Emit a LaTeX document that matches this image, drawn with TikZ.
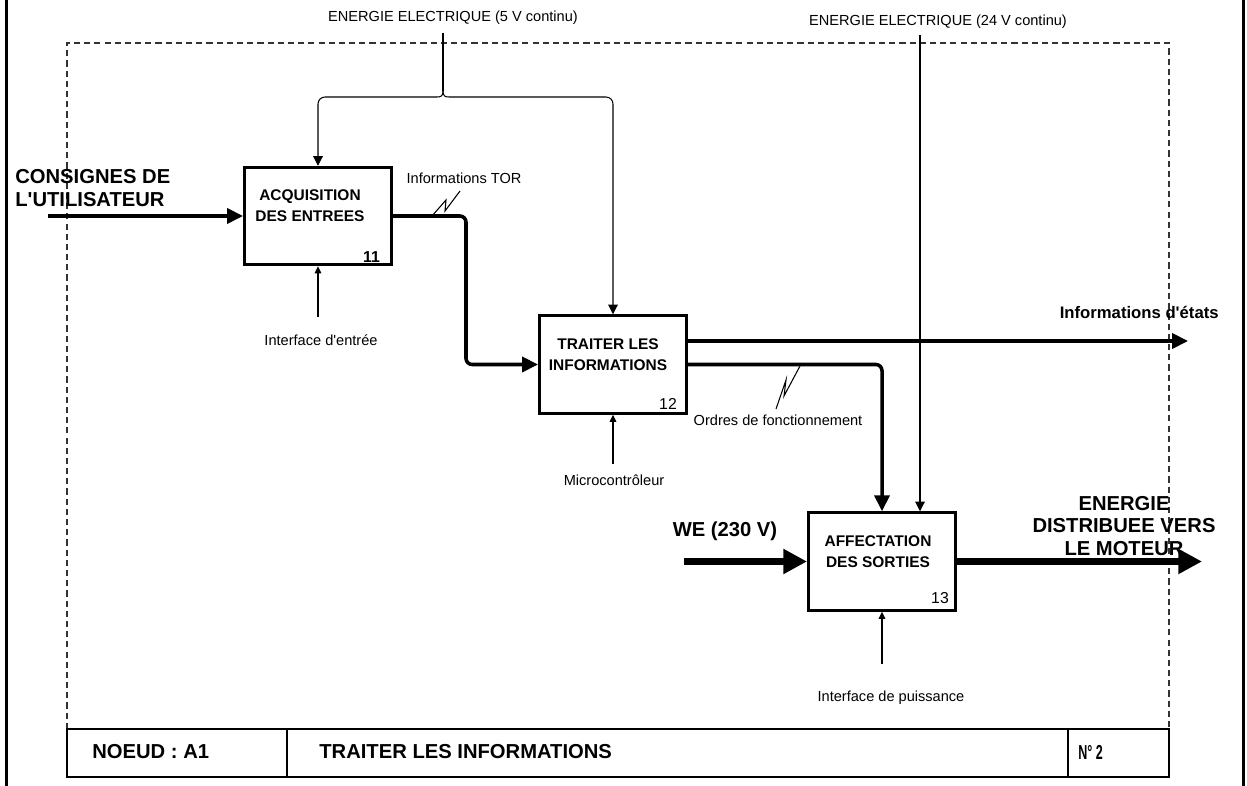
\documentclass[tikz,border=0pt]{standalone}
\usepackage{fontspec}
\setmainfont{Liberation Sans}
\usetikzlibrary{arrows.meta}
\begin{document}
\begin{tikzpicture}[x=0.02cm,y=-0.02cm,
  box/.style={draw, line width=1.7pt, minimum width=2.94cm, minimum height=1.95cm, inner sep=0},
  boxtext/.style={font=\bfseries\fontsize{8.8}{12}\selectfont, align=center, inner sep=0},
  num/.style={font=\fontsize{9}{10}\selectfont, inner sep=0},
  thinl/.style={line width=0.6pt},
  carrow/.style={thinl, -{Triangle[length=5.5pt,width=5.5pt]}},
  marrowthin/.style={thinl, -{Triangle[length=4pt,width=3.8pt]}},
  marrow/.style={line width=2pt, -{Triangle[length=9pt,width=8.5pt]}, rounded corners=3.5pt},
  barrow/.style={line width=4pt, -{Triangle[length=13.5pt,width=13.5pt]}},
  small/.style={font=\fontsize{8.3}{9.8}\selectfont, inner sep=0},
  big/.style={font=\bfseries\fontsize{11.5}{13}\selectfont, inner sep=0},
  bar/.style={font=\bfseries\fontsize{11.5}{13}\selectfont, inner sep=0, anchor=west},
  frame/.style={line width=0.6pt, black!80, dash pattern=on 3.5pt off 2.3pt}
]
\useasboundingbox (0,0) rectangle (1247,786);
% side bars
\draw[line width=1.8pt] (6.5,0) -- (6.5,786);
\draw[line width=1.8pt] (1243.5,0) -- (1243.5,786);
% dashed frame
\draw[frame] (67,729) -- (67,43) -- (1169,43) -- (1169,729);
% title bar
\draw[line width=1pt] (67,729) rectangle (1169,777);
\draw[line width=1pt] (287,729) -- (287,777);
\draw[line width=1pt] (1068,729) -- (1068,777);
\node[bar] (n1) at (92,752) {NOEUD : A1};
\node[bar] (n2) at (319,752) {TRAITER LES INFORMATIONS};
\node[bar] (n3) at (1078,752) {\scalebox{0.62}[1]{N° 2}};

% boxes
\node[box] (b11) at (318,216) {};
\node[box] (b12) at (613,364.5) {};
\node[box] (b13) at (882,561.5) {};
\node[boxtext] (t11) at (310,205.5) {ACQUISITION\\DES ENTREES};
\node[boxtext] (t12) at (608,354.5) {TRAITER LES\\INFORMATIONS};
\node[boxtext] (t13) at (878,551.5) {AFFECTATION\\DES SORTIES};
\node[num, font=\bfseries\fontsize{9}{10}\selectfont] (u11) at (371.5,257) {11};
\node[num] (u12) at (668,404) {12};
\node[num] (u13) at (940,598) {13};

% top controls
\node[small] (l5) at (453,18) {ENERGIE ELECTRIQUE (5 V continu)};
\node[small] (l24) at (938,22) {ENERGIE ELECTRIQUE (24 V continu)};
\coordinate (e5) at (443,33);
\coordinate (e5b) at (443,91);
\coordinate (bl) at (437,97);
\coordinate (bra) at (449,97);
\draw[thinl] (e5) -- (e5b);
\draw[thinl] (e5b) .. controls (443,96) and (441,97) .. (bl);
\draw[thinl] (e5b) .. controls (443,96) and (445,97) .. (bra);
\draw[carrow, rounded corners=4pt] (bl) -| (b11.north);
\draw[carrow, rounded corners=4pt] (bra) -| (b12.north);
\coordinate (e24) at (920,35);
\draw[carrow] (e24) -- (e24 |- b13.north);

% inputs
\node[big, align=left, anchor=west] (lcons) at (15,188) {CONSIGNES DE\\L\textquotesingle UTILISATEUR};
\coordinate (cin) at (48,216);
\draw[marrow] (cin) -- (b11.west |- cin);

\node[big] (lwe) at (725,531) {WE (230 V)};
\coordinate (we) at (684,561.5);
\draw[barrow] (we) -- (b13.west |- we);

% links
\coordinate (k1) at (466,364.5);
\draw[marrow] (b11.east) -| (k1) -- (b12.west);
\node[small] (ltor) at (464,178) {Informations TOR};
\draw[thinl] (432,216) -- (446,200) -- (445,211) -- (460,191);

\coordinate (o1) at (1188,341);
\draw[marrow] (b12.east |- o1) -- (o1);
\node[font=\bfseries\fontsize{9.5}{11}\selectfont, inner sep=0, anchor=east] (letat) at (1219,312) {Informations d\textquotesingle états};

\draw[marrow] (b12.east) -| (b13.north);
\node[small] (lord) at (778,420) {Ordres de fonctionnement};
\draw[thinl] (776,409) -- (786,380) -- (784,396) -- (800,366);

% output
\coordinate (out) at (1202,561.5);
\draw[barrow] (b13.east |- out) -- (out);
\node[big, align=center] (lout) at (1124,526) {ENERGIE\\DISTRIBUEE VERS\\LE MOTEUR};

% mechanisms
\coordinate (m1) at (318,317);
\draw[marrowthin] (m1) -- (b11.south);
\node[small] (lm1) at (321,340) {Interface d\textquotesingle entrée};
\coordinate (m2) at (613,464);
\draw[marrowthin] (m2) -- (b12.south);
\node[small] (lm2) at (614,480) {Microcontrôleur};
\coordinate (m3) at (882,664);
\draw[marrowthin] (m3) -- (b13.south);
\node[small] (lm3) at (891,698) {Interface de puissance};
\end{tikzpicture}
\end{document}
